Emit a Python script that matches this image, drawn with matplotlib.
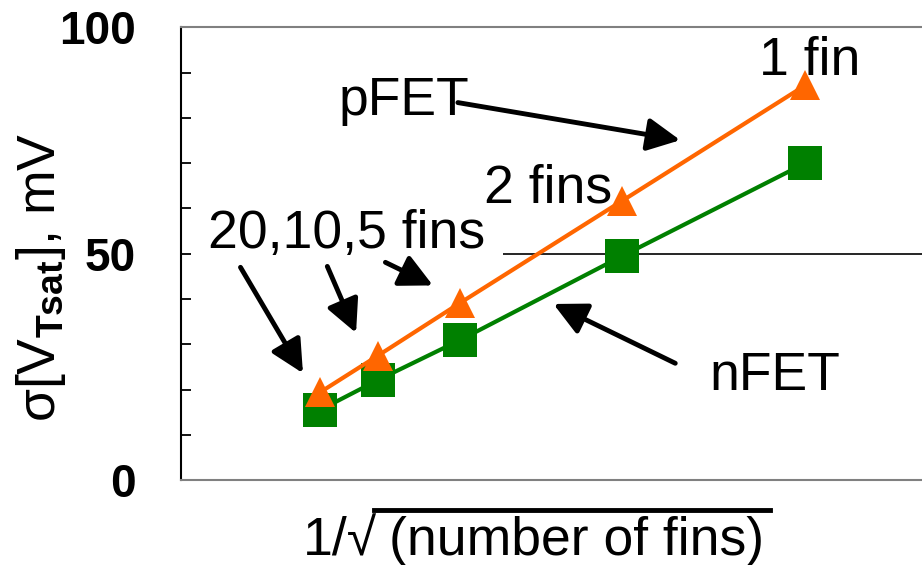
import numpy as np
import matplotlib
matplotlib.use('Agg')
import matplotlib.pyplot as plt
from matplotlib.lines import Line2D

plt.rcParams['font.family'] = ['Liberation Sans', 'DejaVu Sans']
plt.rcParams['mathtext.fontset'] = 'custom'
plt.rcParams['mathtext.rm'] = 'Liberation Sans'
plt.rcParams['mathtext.bf'] = 'Liberation Sans:bold'

# fin counts and measured sigma(VTsat) in mV
fins = np.array([20, 10, 5, 2, 1])
sigma_pfet = [19.4, 27.5, 39.1, 61.7, 87.2]
sigma_nfet = [15.5, 22.1, 30.9, 49.5, 70.0]

y_ticks = list(range(0, 101, 10))
y_tick_labels = ['0', '', '', '', '', '50', '', '', '', '', '100']

x = 1 / np.sqrt(fins)

fig = plt.figure(figsize=(9.22, 5.65), dpi=100)
ax = fig.add_axes([0.1958, 0.1504, 0.8042, 0.801])

ax.set_xlim(0, 1.187)
ax.set_ylim(0, 100)

# reference line at 50 mV
ax.hlines(50, 0.517, 1.187, color='black', lw=1.2, zorder=1)

ax.plot(x, sigma_nfet, color='#008000', lw=3, marker='s', markersize=25,
        markeredgewidth=0, zorder=3)
ax.plot(x, sigma_pfet, color='#FF6600', lw=3, marker='^', markersize=22,
        markeredgewidth=0, zorder=4)

ax.set_xticks([])
ax.set_yticks(y_ticks)
ax.set_yticklabels(y_tick_labels, fontsize=33, fontweight='bold')
ax.tick_params(axis='y', direction='in', length=7, width=1.3, pad=32)

ax.spines['right'].set_visible(False)
ax.spines['left'].set_color('black')
ax.spines['left'].set_linewidth(1.5)
for s in ['top', 'bottom']:
    ax.spines[s].set_color('#808080')
    ax.spines[s].set_linewidth(1.5)

# text labels
fs = 38.5
ax.text(0.357, 80.6, 'pFET', fontsize=fs, ha='center', va='baseline')
ax.text(0.588, 61.4, '2 fins', fontsize=fs, ha='center', va='baseline')
ax.text(0.265, 51.2, '20,10,5 fins', fontsize=fs, ha='center', va='baseline')
ax.text(1.007, 89.4, '1 fin', fontsize=fs, ha='center', va='baseline')
ax.text(0.952, 19.9, 'nFET', fontsize=fs, ha='center', va='baseline')

# arrows: (tail, tip)
arrows = [
    ((0.444, 83.4), (0.800, 75.1)),
    ((0.096, 47.0), (0.196, 23.6)),
    ((0.235, 47.2), (0.281, 32.5)),
    ((0.328, 48.1), (0.404, 43.0)),
    ((0.792, 25.8), (0.597, 38.9)),
]
for tail, tip in arrows:
    ax.annotate('', xy=tip, xytext=tail,
                arrowprops=dict(arrowstyle='-|>,head_length=1.0,head_width=0.5',
                                mutation_scale=20, lw=3.5, color='black',
                                shrinkA=0, shrinkB=0))

# axis labels
fig.text(41 / 922, 1 - 277 / 565, r'σ[V$_{\mathbf{Tsat}}$], mV', fontsize=fs,
         rotation=90, ha='center', va='center')

y_base = 1 - 555 / 565
t1 = fig.text(377 / 922, y_base, '1/√', fontsize=fs, ha='right', va='baseline')
t2 = fig.text(389 / 922, y_base, '(number of fins)', fontsize=fs,
              ha='left', va='baseline')

# overline over the radicand
fig.canvas.draw()
r = fig.canvas.get_renderer()
b1 = t1.get_window_extent(r)
b2 = t2.get_window_extent(r)
y_line = (565 - 510) / 565
fig.add_artist(Line2D([(b1.x1 - 3) / 922, (b2.x1 + 6) / 922], [y_line, y_line],
                      color='black', lw=3.5, transform=fig.transFigure))

fig.savefig('out.png', dpi=100)
